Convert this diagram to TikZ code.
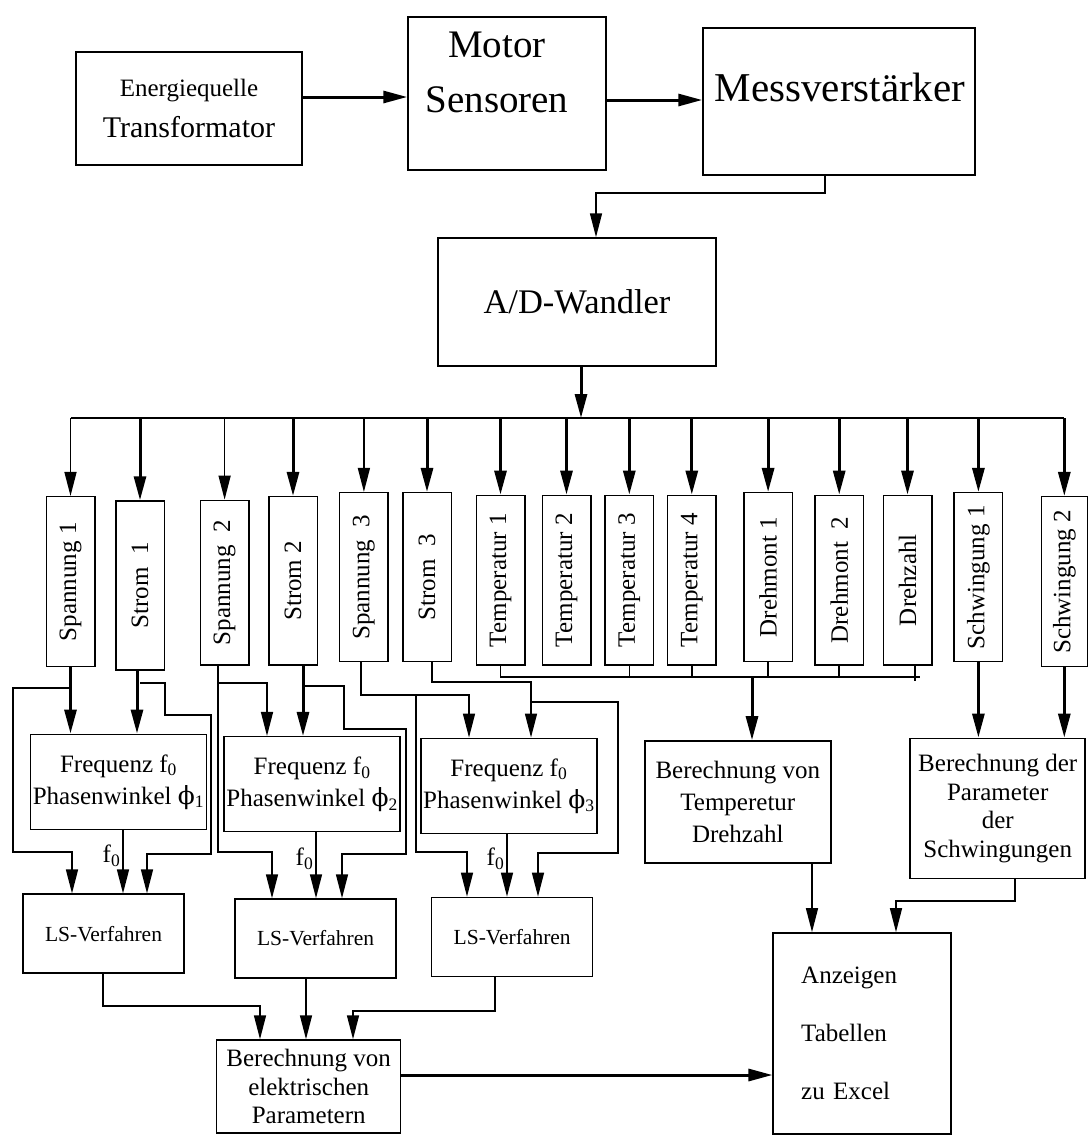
\documentclass[tikz,border=0pt]{standalone}
\usepackage{fontspec}
\setmainfont{Liberation Serif}
\newfontfamily\phifont{DejaVu Serif}
\usetikzlibrary{arrows.meta}

\begin{document}
\begin{tikzpicture}[x=1pt,y=-1pt,>={Triangle[length=24pt,width=12pt]},
    font=\fontsize{25}{32}\selectfont,
    box/.style={draw,line width=1.5pt,inner sep=0pt,align=center},
    chan/.style={box,minimum width=48.5pt},
    conn/.style={line width=1.5pt},
    fat/.style={line width=3pt}]
    \useasboundingbox (0,0) rectangle (1089,1135);

    % top row
    \node[box,minimum width=226pt,minimum height=113pt,font=\fontsize{30}{41}\selectfont] (quelle) at (189,108.5) {{\fontsize{25}{41}\selectfont Energiequelle}\\Transformator};
    \node[box,minimum width=198pt,minimum height=153pt] (motor) at (507,93.5) {};
    \node[font=\fontsize{39}{55}\selectfont,align=center] (motortext) at (497,72) {Motor\\Sensoren};
    \node[box,minimum width=272pt,minimum height=147pt] (mess) at (839,101.5) {};
    \node[font=\fontsize{41}{48}\selectfont] (messtext) at (840,87) {Messverstärker};
    \node[box,minimum width=278pt,minimum height=128pt,font=\fontsize{34.5}{40}\selectfont] (wandler) at (577,302) {A/D-Wandler};
    \coordinate (bus) at (581,418);

    \draw[fat,->] (quelle.east |- 0,97) -- (motor.west |- 0,97);
    \draw[fat,->] (motor.east |- 0,100) -- (mess.west |- 0,100);
    \draw[conn,->] (mess.south -| 825,0) |- (596,193) -- (wandler.north -| 596,0);
    \draw[fat,->] (wandler.south -| bus) -- (bus);

    % channels
    \node[chan,minimum height=170pt] (span1) at (70.5,581.7) {\rotatebox{90}{Spannung 1}};
    \node[chan,minimum height=169pt] (strom1) at (140,585.5) {\rotatebox{90}{Strom~ 1}};
    \node[chan,minimum height=164.7pt] (span2) at (224.6,582.7) {\rotatebox{90}{Spannung~ 2}};
    \node[chan,minimum height=168.3pt] (strom2) at (293,580.8) {\rotatebox{90}{Strom 2}};
    \node[chan,minimum height=169pt] (span3) at (363.9,577.2) {\rotatebox{90}{Spannung~ 3}};
    \node[chan,minimum height=169pt] (strom3) at (427,577.2) {\rotatebox{90}{Strom~ 3}};
    \node[chan,minimum height=169.7pt] (temp1) at (500.5,580.2) {\rotatebox{90}{Temperatur 1}};
    \node[chan,minimum height=169.7pt] (temp2) at (566.5,580.2) {\rotatebox{90}{Temperatur 2}};
    \node[chan,minimum height=169.7pt] (temp3) at (629.3,580.2) {\rotatebox{90}{Temperatur 3}};
    \node[chan,minimum height=169.7pt] (temp4) at (691.8,580.2) {\rotatebox{90}{Temperatur 4}};
    \node[chan,minimum height=169pt] (dreh1) at (768.1,577.2) {\rotatebox{90}{Drehmont 1}};
    \node[chan,minimum height=169.7pt] (dreh2) at (839.2,580.2) {\rotatebox{90}{Drehmont~ 2}};
    \node[chan,minimum height=169.7pt] (drehz) at (907.5,580.2) {\rotatebox{90}{Drehzahl}};
    \node[chan,minimum height=169pt] (schw1) at (978.4,577.2) {\rotatebox{90}{Schwingung 1}};
    \node[chan,minimum width=46pt,minimum height=170pt] (schw2) at (1064.3,581.7) {\rotatebox{90}{Schwingung 2}};

    \draw[line width=2pt] (span1.north |- bus) -- (schw2.north |- bus);
    \draw[conn,->] (span1.north |- bus) -- (span1.north);
    \draw[fat,->] (strom1.north |- bus) -- (strom1.north);
    \draw[conn,->] (span2.north |- bus) -- (span2.north);
    \draw[fat,->] (strom2.north |- bus) -- (strom2.north);
    \draw[conn,->] (span3.north |- bus) -- (span3.north);
    \draw[fat,->] (strom3.north |- bus) -- (strom3.north);
    \draw[fat,->] (temp1.north |- bus) -- (temp1.north);
    \draw[fat,->] (temp2.north |- bus) -- (temp2.north);
    \draw[fat,->] (temp3.north |- bus) -- (temp3.north);
    \draw[fat,->] (temp4.north |- bus) -- (temp4.north);
    \draw[fat,->] (dreh1.north |- bus) -- (dreh1.north);
    \draw[fat,->] (dreh2.north |- bus) -- (dreh2.north);
    \draw[fat,->] (drehz.north |- bus) -- (drehz.north);
    \draw[fat,->] (schw1.north |- bus) -- (schw1.north);
    \draw[fat,->] (schw2.north |- bus) -- (schw2.north);

    % frequency and LS blocks
    \node[box,minimum width=176pt,minimum height=95pt] (freq1) at (118.5,781.8) {Frequenz f\textsubscript{0}\\Phasenwinkel {\phifont ϕ}\textsubscript{1}};
    \node[box,minimum width=176pt,minimum height=95pt] (freq2) at (312.1,784.2) {Frequenz f\textsubscript{0}\\Phasenwinkel {\phifont ϕ}\textsubscript{2}};
    \node[box,minimum width=176pt,minimum height=95pt] (freq3) at (508.9,785.8) {Frequenz f\textsubscript{0}\\Phasenwinkel {\phifont ϕ}\textsubscript{3}};
    \node[box,minimum width=161pt,minimum height=79pt,font=\fontsize{21.5}{26}\selectfont] (ls1) at (103.5,933.7) {LS-Verfahren};
    \node[box,minimum width=161pt,minimum height=79pt,font=\fontsize{21.5}{26}\selectfont] (ls2) at (315.6,938.5) {LS-Verfahren};
    \node[box,minimum width=161pt,minimum height=79pt,font=\fontsize{21.5}{26}\selectfont] (ls3) at (512.2,936.9) {LS-Verfahren};

    % channel 1
    \draw[fat,->] (span1.south) -- (span1.south |- freq1.north);
    \draw[fat,->] (strom1.south -| 137,0) -- (freq1.north -| 137,0);
    \draw[conn,->] (span1.south |- 0,688) -| (13,852) -| (ls1.north -| 72,0);
    \draw[conn,->] (strom1.south |- 0,683) -| (165,715) -| (211,854) -| (ls1.north -| 147,0);
    \draw[conn,->] (freq1.south -| 123,0) -- node[left,pos=.4,inner sep=2pt]{f\textsubscript{0}} (ls1.north -| 123,0);
    % channel 2
    \draw[conn,->] (span2.south -| 218,0) |- (267,683) -- (freq2.north -| 267,0);
    \draw[conn,->] (span2.south -| 218,0) |- (272,852) -- (ls2.north -| 272,0);
    \draw[fat,->] (strom2.south -| 303,0) -- (freq2.north -| 303,0);
    \draw[conn,->] (strom2.south -| 303,0) |- (344,686) |- (406,729) |- (342,854) -- (ls2.north -| 342,0);
    \draw[conn,->] (freq2.south -| 316,0) -- node[left,pos=.4,inner sep=2pt]{f\textsubscript{0}} (ls2.north -| 316,0);
    % channel 3
    \draw[conn,->] (span3.south -| 361,0) |- (469,695) -- (freq3.north -| 469,0);
    \draw[conn,->] (span3.south -| 361,0) |- (416,695) |- (467,852) -- (ls3.north -| 467,0);
    \draw[conn,->] (strom3.south -| 432,0) |- (531,682) -- (freq3.north -| 531,0);
    \draw[conn,->] (strom3.south -| 432,0) |- (531,682) |- (618,702) |- (538,853) -- (ls3.north -| 538,0);
    \draw[conn,->] (freq3.south -| 507,0) -- node[left,pos=.4,inner sep=2pt]{f\textsubscript{0}} (ls3.north -| 507,0);

    % temperature, torque, speed
    \node[box,minimum width=186pt,minimum height=122pt] (btemp) at (737.8,801.9) {Berechnung von\\Temperetur\\Drehzahl};
    \node[box,minimum width=175pt,minimum height=140pt,font=\fontsize{25}{28.5}\selectfont] (bschw) at (997.7,808.3) {Berechnung der\\Parameter\\der\\Schwingungen};
    \coordinate (tj) at (752,677);
    \draw[conn] (temp1.south) |- (920,677);
    \draw[conn] (temp3.south) -- (temp3.south |- tj);
    \draw[conn] (temp4.south) -- (temp4.south |- tj);
    \draw[conn] (dreh1.south) -- (dreh1.south |- tj);
    \draw[conn] (dreh2.south) -- (dreh2.south |- tj);
    \draw[conn] (drehz.south -| 915,0) -- ++(0,15);
    \draw[fat,->] (tj) -- (btemp.north -| tj);
    \draw[fat,->] (schw1.south) -- (schw1.south |- bschw.north);
    \draw[fat,->] (schw2.south) -- (schw2.south |- bschw.north);

    % results
    \node[box,minimum width=184pt,minimum height=93pt,font=\fontsize{25}{28.5}\selectfont] (belek) at (308.7,1086.5) {Berechnung von\\elektrischen\\Parametern};
    \node[box,minimum width=178pt,minimum height=201pt,text width=122pt,inner xsep=28pt,align=left,font=\fontsize{25}{58}\selectfont] (anzeige) at (862.2,1033.4) {Anzeigen\\Tabellen\\zu Excel};
    \draw[conn,->] (ls1.south -| 103,0) |- (260,1006) -- (belek.north -| 260,0);
    \draw[conn,->] (ls2.south -| 306,0) -- (belek.north -| 306,0);
    \draw[conn,->] (ls3.south -| 495,0) |- (353,1011) -- (belek.north -| 353,0);
    \draw[fat,->] (belek.east |- 0,1075) -- (anzeige.west |- 0,1075);
    \draw[conn,->] (btemp.south -| 812,0) -- (anzeige.north -| 812,0);
    \draw[conn,->] (bschw.south -| 1015,0) |- (896,901) -- (anzeige.north -| 896,0);
  \end{tikzpicture}
\end{document}
